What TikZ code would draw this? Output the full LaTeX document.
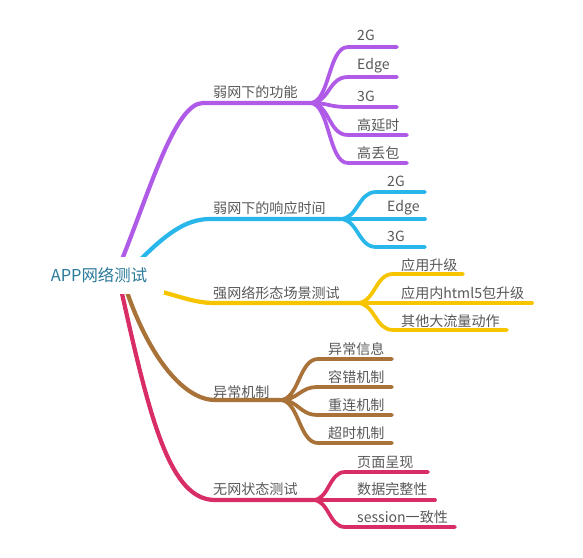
\documentclass[tikz,border=0pt]{standalone}
\usepackage{fontspec}
\setmainfont{Noto Sans CJK SC}
\definecolor{MapPurple}{RGB}{176,90,232}
\definecolor{MapBlue}  {RGB}{41,182,234}
\definecolor{MapYellow}{RGB}{247,197,0}
\definecolor{MapBrown} {RGB}{168,114,56}
\definecolor{MapPink}  {RGB}{217,45,102}
\definecolor{MapText}  {RGB}{88,88,88}
\definecolor{MapRoot}  {RGB}{43,122,153}
\usetikzlibrary{positioning}

\begin{document}
\begin{tikzpicture}[x=0.03cm,y=-0.03cm,
    leaf/.style={anchor=west,inner sep=0pt,text=MapText,
                 font=\fontsize{12}{14}\selectfont},
    trunk/.style={line width=3.6pt,line cap=round},
    twig/.style={line width=3.2pt,line cap=round}]
  \useasboundingbox (0,0) rectangle (583,558);
  %% Root anchors (hidden under the root box)
  \coordinate (r1) at (121,262);
  \coordinate (r2) at (138,262);
  \coordinate (r3) at (155,290);
  \coordinate (r4) at (126,289);
  \coordinate (r5) at (121,289);

  %% Branch 1: 弱网下的功能
  \coordinate (b1) at (203,103);
  \coordinate (f1) at (310,103);
  \draw[MapPurple,trunk](r1) .. controls (150,190) and (175,103) .. (b1) -- (f1);
  \node[leaf] (l1) at (213,92){弱网下的功能};
  \coordinate (c1a) at (348,47);  \coordinate (e1a) at (397,47);
  \coordinate (c1b) at (348,77);  \coordinate (e1b) at (397,77);
  \coordinate (c1c) at (348,107); \coordinate (e1c) at (397,107);
  \coordinate (c1d) at (348,135); \coordinate (e1d) at (407,135);
  \coordinate (c1e) at (348,163); \coordinate (e1e) at (407,163);
  \draw[MapPurple,twig](f1) .. controls (330,103) and (328,47) .. (c1a) -- (e1a);
  \draw[MapPurple,twig](f1) .. controls (330,103) and (328,77) .. (c1b) -- (e1b);
  \draw[MapPurple,twig](f1) .. controls (330,103) and (328,107) .. (c1c) -- (e1c);
  \draw[MapPurple,twig](f1) .. controls (330,103) and (328,135) .. (c1d) -- (e1d);
  \draw[MapPurple,twig](f1) .. controls (330,103) and (328,163) .. (c1e) -- (e1e);
  \node[leaf] (t1a) at (357,35){2G};
  \node[leaf] (t1b) at (357,66){Edge};
  \node[leaf] (t1c) at (357,96){3G};
  \node[leaf] (t1d) at (357,125){高延时};
  \node[leaf] (t1e) at (357,153){高丢包};

  %% Branch 2: 弱网下的响应时间
  \coordinate (b2) at (210,219);
  \coordinate (f2) at (340,219);
  \draw[MapBlue,trunk](r2) .. controls (165,235) and (185,219) .. (b2) -- (f2);
  \node[leaf] (l2) at (213,208){弱网下的响应时间};
  \coordinate (c2a) at (376,192); \coordinate (e2a) at (425,192);
  \coordinate (c2b) at (376,219); \coordinate (e2b) at (425,219);
  \coordinate (c2c) at (376,247); \coordinate (e2c) at (425,247);
  \draw[MapBlue,twig](f2) .. controls (358,219) and (358,192) .. (c2a) -- (e2a);
  \draw[MapBlue,twig](f2) -- (c2b) -- (e2b);
  \draw[MapBlue,twig](f2) .. controls (358,219) and (358,247) .. (c2c) -- (e2c);
  \node[leaf] (t2a) at (387,181){2G};
  \node[leaf] (t2b) at (387,208){Edge};
  \node[leaf] (t2c) at (387,236){3G};

  %% Branch 3: 强网络形态场景测试
  \coordinate (b3) at (215,303);
  \coordinate (f3) at (357,303);
  \draw[MapYellow,trunk](r3) .. controls (182,297) and (195,303) .. (b3) -- (f3);
  \node[leaf] (l3) at (213,293){强网络形态场景测试};
  \coordinate (c3a) at (393,274); \coordinate (e3a) at (463,274);
  \coordinate (c3b) at (393,303); \coordinate (e3b) at (532,303);
  \coordinate (c3c) at (393,330); \coordinate (e3c) at (507,330);
  \draw[MapYellow,twig](f3) .. controls (375,303) and (375,274) .. (c3a) -- (e3a);
  \draw[MapYellow,twig](f3) -- (c3b) -- (e3b);
  \draw[MapYellow,twig](f3) .. controls (375,303) and (375,330) .. (c3c) -- (e3c);
  \node[leaf] (t3a) at (401,265){应用升级};
  \node[leaf] (t3b) at (401,293){应用内html5包升级};
  \node[leaf] (t3c) at (401,321){其他大流量动作};

  %% Branch 4: 异常机制
  \coordinate (b4) at (215,400);
  \coordinate (f4) at (280,400);
  \draw[MapBrown,trunk](r4) .. controls (150,360) and (185,400) .. (b4) -- (f4);
  \node[leaf] (l4) at (213,392){异常机制};
  \coordinate (c4a) at (318,359); \coordinate (e4a) at (392,359);
  \coordinate (c4b) at (318,387); \coordinate (e4b) at (392,387);
  \coordinate (c4c) at (318,415); \coordinate (e4c) at (392,415);
  \coordinate (c4d) at (318,443); \coordinate (e4d) at (392,443);
  \draw[MapBrown,twig](f4) .. controls (299,400) and (299,359) .. (c4a) -- (e4a);
  \draw[MapBrown,twig](f4) .. controls (299,400) and (299,387) .. (c4b) -- (e4b);
  \draw[MapBrown,twig](f4) .. controls (299,400) and (299,415) .. (c4c) -- (e4c);
  \draw[MapBrown,twig](f4) .. controls (299,400) and (299,443) .. (c4d) -- (e4d);
  \node[leaf] (t4a) at (328,349){异常信息};
  \node[leaf] (t4b) at (328,377){容错机制};
  \node[leaf] (t4c) at (328,405){重连机制};
  \node[leaf] (t4d) at (328,433){超时机制};

  %% Branch 5: 无网状态测试
  \coordinate (b5) at (215,500);
  \coordinate (f5) at (313,500);
  \draw[MapPink,trunk](r5) .. controls (150,420) and (170,500) .. (b5) -- (f5);
  \node[leaf] (l5) at (213,489){无网状态测试};
  \coordinate (c5a) at (345,472); \coordinate (e5a) at (428,472);
  \coordinate (c5b) at (345,500); \coordinate (e5b) at (435,500);
  \coordinate (c5c) at (345,527); \coordinate (e5c) at (455,527);
  \draw[MapPink,twig](f5) .. controls (329,500) and (329,472) .. (c5a) -- (e5a);
  \draw[MapPink,twig](f5) -- (c5b) -- (e5b);
  \draw[MapPink,twig](f5) .. controls (329,500) and (329,527) .. (c5c) -- (e5c);
  \node[leaf] (t5a) at (357,462){页面呈现};
  \node[leaf] (t5b) at (357,489){数据完整性};
  \node[leaf] (t5c) at (357,517){session一致性};

  %% Root
  \node[fill=white,text=MapRoot,font=\fontsize{14}{16}\selectfont,
        minimum width=130*0.03cm,minimum height=37*0.03cm,
        inner sep=0pt] (root) at (99,275.5){APP网络测试};
\end{tikzpicture}
\end{document}
